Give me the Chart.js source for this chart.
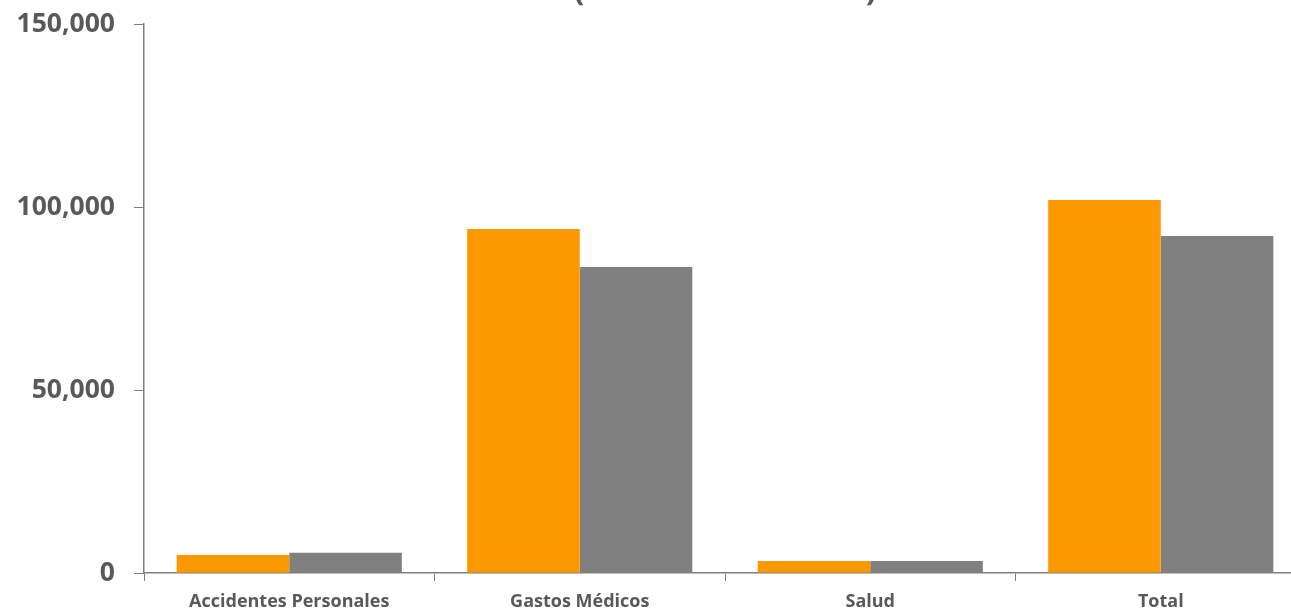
<!DOCTYPE html>
<html lang="es">
<head>
  <meta charset="UTF-8">
  <title>Ramos - Millones de Pesos</title>
  <script src="https://cdn.jsdelivr.net/npm/chart.js"></script>
  <style>
    html, body {
      margin: 0;
      padding: 0;
      background: #fff;
      overflow: hidden;
      width: 1291px;
      height: 611px;
    }
    #wrap {
      position: absolute;
      left: 0;
      top: -28px;
      width: 1306px;
      height: 639px;
    }
  </style>
</head>
<body>
  <div id="wrap"><canvas id="grafica"></canvas></div>
  <script>
    // datos
    const categorias = ['Accidentes Personales', 'Gastos Médicos', 'Salud', 'Total'];
    const serieA = [4900, 94000, 3300, 101900];
    const serieB = [5500, 83600, 3300, 92100];
    const ticksY = [0, 50000, 100000, 150000];

    const gris = '#595959';
    const linea = '#7f7f7f';

    new Chart(document.getElementById('grafica'), {
      type: 'bar',
      data: {
        labels: categorias,
        datasets: [
          { label: 'Periodo anterior', data: serieA, backgroundColor: '#FC9900' },
          { label: 'Periodo actual', data: serieB, backgroundColor: '#808080' }
        ]
      },
      options: {
        responsive: true,
        maintainAspectRatio: false,
        animation: false,
        categoryPercentage: 0.775,
        barPercentage: 1,
        layout: { padding: 0 },
        plugins: {
          legend: { display: false },
          tooltip: { enabled: false },
          title: {
            display: true,
            fullSize: false,
            text: '(Millones de Pesos)',
            color: gris,
            font: { family: 'Open Sans', size: 32, weight: 'bold' },
            padding: { top: 0, bottom: 13.6 }
          }
        },
        scales: {
          x: {
            afterFit: s => { s.height = 38; },
            border: { color: linea, width: 1.5 },
            grid: { display: true, drawOnChartArea: false, offset: true, tickLength: 8, color: linea },
            ticks: {
              color: gris,
              padding: 10,
              maxRotation: 0,
              font: { family: 'Open Sans', size: 18, weight: 'bold' }
            }
          },
          y: {
            min: 0,
            max: 150000,
            afterFit: s => { s.width = 144; },
            afterBuildTicks: s => { s.ticks = ticksY.map(v => ({ value: v })); },
            border: { color: linea, width: 1.5 },
            grid: { display: true, drawOnChartArea: false, tickLength: 10, color: linea },
            ticks: {
              color: gris,
              padding: 19,
              font: { family: 'Open Sans', size: 26.5, weight: 'bold' },
              callback: v => v.toLocaleString('en-US')
            }
          }
        }
      }
    });
  </script>
</body>
</html>
